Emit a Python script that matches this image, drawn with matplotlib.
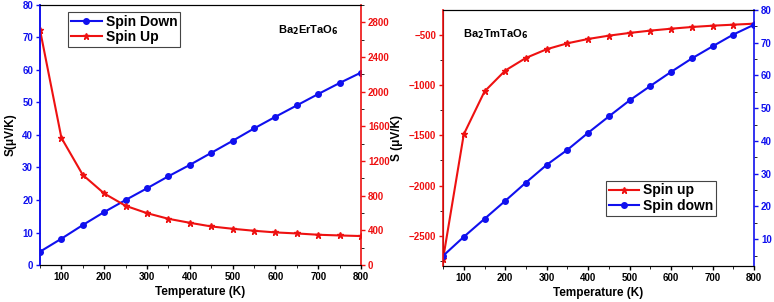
import matplotlib
matplotlib.use("Agg")
import matplotlib.pyplot as plt
from matplotlib.ticker import MultipleLocator

plt.rcParams['font.family'] = ['Liberation Sans', 'DejaVu Sans']
plt.rcParams['font.weight'] = 'bold'
plt.rcParams['mathtext.default'] = 'bf'

temperature = [50, 100, 150, 200, 250, 300, 350, 400, 450, 500, 550, 600, 650, 700, 750, 800]

# Ba2ErTaO6
er_spin_down = [4.1, 8.1, 12.3, 16.3, 20.0, 23.6, 27.3, 30.8, 34.5, 38.2, 42.0, 45.6, 49.1, 52.6, 56.0, 59.2]
er_spin_up = [2712, 1467, 1039, 825, 683, 598, 533, 487, 445, 418, 395, 376, 364, 349, 341, 334]

# Ba2TmTaO6
tm_spin_up = [-2731, -1491, -1065, -857, -731, -645, -586, -543, -510, -483, -460, -441, -424, -411, -401, -391]
tm_spin_down = [4.9, 10.7, 16.2, 21.7, 27.3, 32.7, 37.3, 42.5, 47.5, 52.4, 56.8, 61.1, 65.2, 68.9, 72.5, 75.5]

BLUE = '#1010ee'
RED = '#ee1111'

fig = plt.figure(figsize=(7.74, 3.02), dpi=100)

# ---------------- Left panel ----------------
ax1 = fig.add_axes([0.0517, 0.1225, 0.4147, 0.861])
ax1b = ax1.twinx()
l1, = ax1.plot(temperature, er_spin_down, color=BLUE, lw=1.5, marker='o', ms=4, label='Spin Down')
l2, = ax1b.plot(temperature, er_spin_up, color=RED, lw=1.5, marker='*', ms=5, label='Spin Up')
ax1.set_xlim(50, 800)
ax1.set_ylim(0, 80)
ax1b.set_ylim(0, 3000)
ax1.set_xticks([100, 200, 300, 400, 500, 600, 700, 800])
ax1.xaxis.set_minor_locator(MultipleLocator(50))
ax1.set_yticks(range(0, 81, 10))
ax1b.set_yticks(range(0, 2801, 400))
ax1b.yaxis.set_minor_locator(MultipleLocator(200))
ax1.tick_params(axis='x', labelsize=7, length=3, width=1, pad=2)
ax1.tick_params(axis='x', which='minor', length=2)
ax1.tick_params(axis='y', colors=BLUE, labelsize=7, length=3, width=1, pad=2)
ax1b.tick_params(axis='y', colors=RED, labelsize=7, length=3, width=1, pad=2)
ax1b.tick_params(axis='y', which='minor', length=2)
ax1.spines['left'].set_color(BLUE)
ax1b.spines['left'].set_color(BLUE)
ax1b.spines['right'].set_color(RED)
ax1.spines['right'].set_visible(False)
for s in ['left', 'right']:
    ax1b.spines[s].set_linewidth(1.2)
ax1.spines['left'].set_linewidth(1.2)
ax1.set_xlabel('Temperature (K)', fontsize=8.5, fontweight='bold', labelpad=3)
ax1.set_ylabel('S(\u03bcV/K)', fontsize=8.5, fontweight='bold', labelpad=4)
ax1.text(0.74, 0.905, r'Ba$_2$ErTaO$_6$', transform=ax1.transAxes, fontsize=8,
         fontweight='bold', ha='left', va='center')
leg1 = ax1.legend(handles=[l1, l2], loc='upper left', bbox_to_anchor=(0.075, 0.99),
                  prop={'weight': 'bold', 'size': 10}, fancybox=False, edgecolor='#444444',
                  handlelength=2.2, handletextpad=0.3, borderpad=0.2, labelspacing=0.1,
                  borderaxespad=0.3, framealpha=1)
leg1.get_frame().set_linewidth(0.8)

# ---------------- Right panel ----------------
ax2 = fig.add_axes([0.5724, 0.1192, 0.4018, 0.8477])
ax2b = ax2.twinx()
r1, = ax2.plot(temperature, tm_spin_up, color=RED, lw=1.5, marker='*', ms=5, label='Spin up')
r2, = ax2b.plot(temperature, tm_spin_down, color=BLUE, lw=1.5, marker='o', ms=4, label='Spin down')
ax2.set_xlim(50, 800)
ax2.set_ylim(-2800, -255)
ax2b.set_ylim(1.8, 80)
ax2.set_xticks([100, 200, 300, 400, 500, 600, 700, 800])
ax2.xaxis.set_minor_locator(MultipleLocator(50))
ax2.set_yticks([-2500, -2000, -1500, -1000, -500])
ax2.yaxis.set_minor_locator(MultipleLocator(250))
ax2b.set_yticks(range(10, 81, 10))
ax2b.yaxis.set_minor_locator(MultipleLocator(5))
ax2.tick_params(axis='x', labelsize=7, length=3, width=1, pad=2)
ax2.tick_params(axis='x', which='minor', length=2)
ax2.tick_params(axis='y', colors=RED, labelsize=7, length=3, width=1, pad=2)
ax2.tick_params(axis='y', which='minor', length=2)
ax2b.tick_params(axis='y', colors=BLUE, labelsize=7, length=3, width=1, pad=2)
ax2b.tick_params(axis='y', which='minor', length=2)
ax2.spines['right'].set_visible(False)
ax2b.spines['left'].set_color(RED)
ax2b.spines['right'].set_color(BLUE)
for s in ['left', 'right']:
    ax2b.spines[s].set_linewidth(1.2)
ax2.set_xlabel('Temperature (K)', fontsize=8.5, fontweight='bold', labelpad=3)
ax2.set_ylabel('S (\u03bcV/K)', fontsize=8.5, fontweight='bold', labelpad=4)
ax2.text(0.065, 0.905, r'Ba$_2$TmTaO$_6$', transform=ax2.transAxes, fontsize=8,
         fontweight='bold', ha='left', va='center')
leg2 = ax2.legend(handles=[r1, r2], loc='center left', bbox_to_anchor=(0.51, 0.265),
                  prop={'weight': 'bold', 'size': 10}, fancybox=False, edgecolor='#444444',
                  handlelength=2.2, handletextpad=0.3, borderpad=0.2, labelspacing=0.1,
                  borderaxespad=0.3, framealpha=1)
leg2.get_frame().set_linewidth(0.8)

fig.savefig('out.png', dpi=100)
